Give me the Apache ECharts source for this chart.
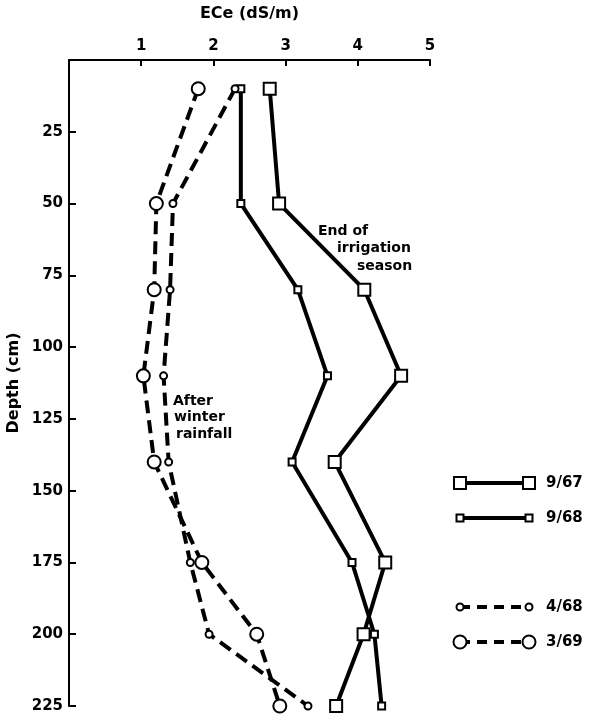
<!DOCTYPE html>
<html>
<head>
<meta charset="utf-8">
<script src="https://cdn.jsdelivr.net/npm/echarts@6/dist/echarts.min.js"></script>
<style>
html,body{margin:0;padding:0;background:#fff;}
#chart{width:600px;height:723px;}
</style>
</head>
<body>
<div id="chart"></div>
<script>
// Depths (cm) of samples
var depths = [10, 50, 80, 110, 140, 175, 200, 225];
// ECe (dS/m) values per sampling date
var ece_9_67 = [2.78, 2.91, 4.09, 4.60, 3.68, 4.38, 4.08, 3.70];
var ece_9_68 = [2.38, 2.38, 3.17, 3.58, 3.09, 3.92, 4.23, 4.33];
var ece_4_68 = [2.30, 1.44, 1.40, 1.31, 1.38, 1.68, 1.94, 3.31];
var ece_3_69 = [1.79, 1.21, 1.18, 1.03, 1.18, 1.84, 2.60, 2.92];
var seriesNames = ['9/67', '9/68', '4/68', '3/69'];
var xTicks = [0, 1, 2, 3, 4, 5];
var yTicks = [0, 25, 50, 75, 100, 125, 150, 175, 200, 225];

var FONT = 'DejaVu Sans';

function pairs(xs) {
  return xs.map(function (v, i) { return [v, depths[i]]; });
}

var styles = [
  { symbol: 'rect', size: 12, dash: 'solid' },
  { symbol: 'rect', size: 7, dash: 'solid' },
  { symbol: 'circle', size: 7, dash: [13, 7] },
  { symbol: 'circle', size: 13, dash: [13, 7] }
];
var values = [ece_9_67, ece_9_68, ece_4_68, ece_3_69];

var series = values.map(function (vals, i) {
  var s = styles[i];
  return {
    name: seriesNames[i],
    type: 'line',
    data: pairs(vals),
    symbol: s.symbol,
    symbolSize: s.size,
    showAllSymbol: true,
    lineStyle: { color: '#000', width: 4, type: s.dash },
    itemStyle: { color: '#fff', borderColor: '#000', borderWidth: 2 },
    z: 3
  };
});

var chart = echarts.init(document.getElementById('chart'), null, { renderer: 'canvas' });

var option = {
  animation: false,
  backgroundColor: '#fff',
  grid: { left: 69, right: 170, top: 60, bottom: 17, containLabel: false, outerBoundsMode: 'none' },
  xAxis: {
    type: 'value',
    position: 'top',
    min: xTicks[0],
    max: xTicks[xTicks.length - 1],
    interval: 1,
    name: 'ECe (dS/m)',
    nameLocation: 'middle',
    nameGap: 38,
    nameTextStyle: { fontFamily: FONT, fontWeight: 'bold', fontSize: 16, color: '#000' },
    axisLine: { show: true, lineStyle: { color: '#000', width: 2 } },
    axisTick: { show: true, inside: true, length: 6, lineStyle: { color: '#000', width: 2 } },
    axisLabel: {
      showMinLabel: false,
      margin: 6,
      fontFamily: FONT, fontWeight: 'bold', fontSize: 15, color: '#000'
    },
    splitLine: { show: false }
  },
  yAxis: {
    type: 'value',
    inverse: true,
    min: yTicks[0],
    max: yTicks[yTicks.length - 1],
    interval: 25,
    name: 'Depth (cm)',
    nameLocation: 'middle',
    nameGap: 47,
    nameMoveOverlap: false,
    nameRotate: 90,
    nameTextStyle: { fontFamily: FONT, fontWeight: 'bold', fontSize: 16, color: '#000' },
    axisLine: { show: true, lineStyle: { color: '#000', width: 2 } },
    axisTick: { show: true, inside: true, length: 7, lineStyle: { color: '#000', width: 2 } },
    axisLabel: {
      showMinLabel: false,
      margin: 6,
      fontFamily: FONT, fontWeight: 'bold', fontSize: 15, color: '#000'
    },
    splitLine: { show: false }
  },
  series: series
};
chart.setOption(option);

// Annotations and legend drawn as graphics
var txt = { fontFamily: FONT, fontWeight: 'bold', fontSize: 14, fill: '#000' };
function text(x, y, s, extra) {
  return { type: 'text', left: x, top: y - 7, z: 10,
    style: Object.assign({ text: s }, txt, extra || {}) };
}
var graphics = [
  text(318, 231, 'End of'),
  text(337, 248, 'irrigation'),
  text(357, 266, 'season'),
  text(173, 401, 'After'),
  text(174, 417, 'winter'),
  text(176, 434, 'rainfall')
];

var legendRows = [
  { y: 483, style: styles[0], name: seriesNames[0] },
  { y: 518, style: styles[1], name: seriesNames[1] },
  { y: 607, style: styles[2], name: seriesNames[2] },
  { y: 642, style: styles[3], name: seriesNames[3] }
];
var lx1 = 460, lx2 = 529;
legendRows.forEach(function (r) {
  graphics.push({ type: 'line', z: 10,
    shape: { x1: lx1, y1: r.y, x2: lx2, y2: r.y },
    style: { stroke: '#000', lineWidth: 4, lineDash: r.style.dash === 'solid' ? null : [10, 7] } });
  [lx1, lx2].forEach(function (cx) {
    var sz = r.style.size;
    if (r.style.symbol === 'rect') {
      graphics.push({ type: 'rect', z: 11,
        shape: { x: cx - sz / 2, y: r.y - sz / 2, width: sz, height: sz },
        style: { fill: '#fff', stroke: '#000', lineWidth: 2 } });
    } else {
      graphics.push({ type: 'circle', z: 11,
        shape: { cx: cx, cy: r.y, r: sz / 2 },
        style: { fill: '#fff', stroke: '#000', lineWidth: 2 } });
    }
  });
  graphics.push({ type: 'text', z: 11, left: 546, top: r.y - 7,
    style: Object.assign({ text: r.name }, txt, { fontSize: 15 }) });
});

chart.setOption({ graphic: graphics });
</script>
</body>
</html>
